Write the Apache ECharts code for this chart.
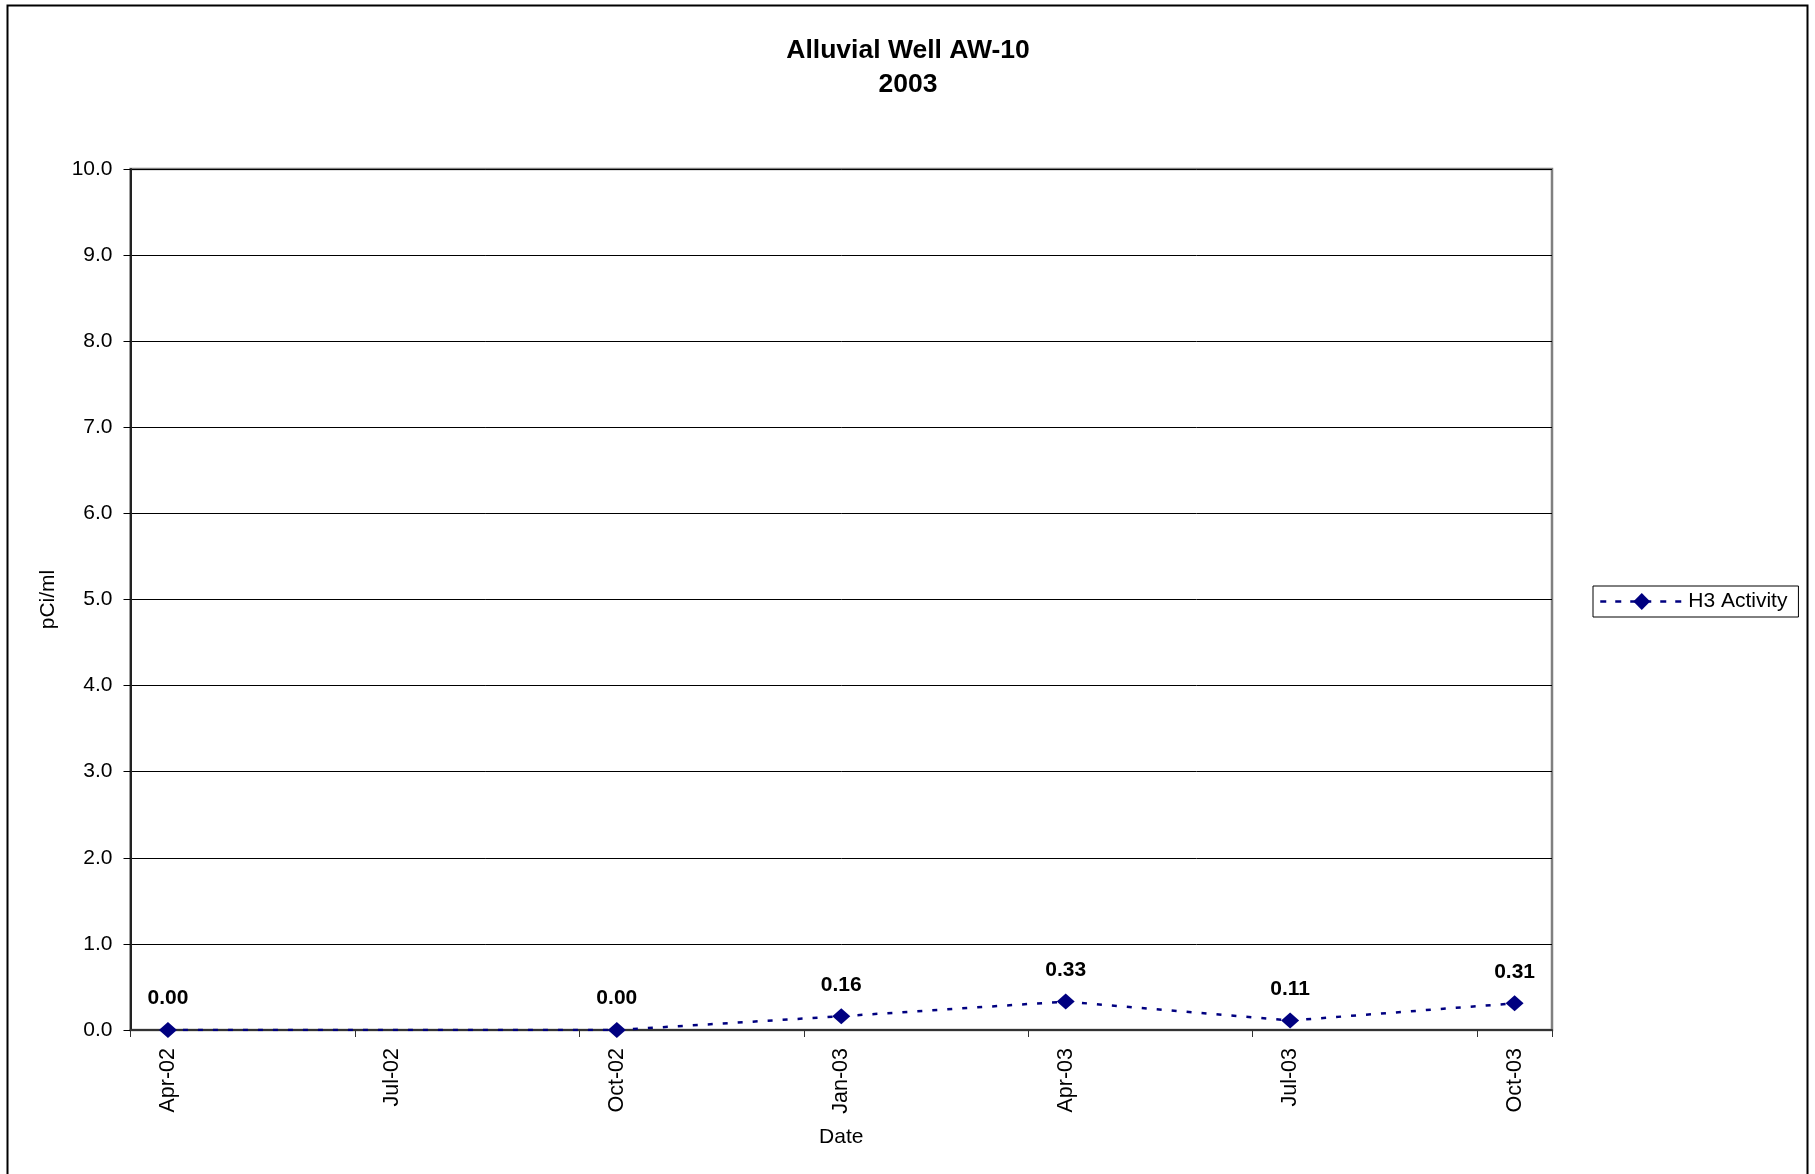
<!DOCTYPE html>
<html>
<head>
<meta charset="utf-8">
<title>Alluvial Well AW-10 2003</title>
<script src="https://cdn.jsdelivr.net/npm/echarts@6/dist/echarts.min.js"></script>
<style>
  html, body { margin: 0; padding: 0; background: #ffffff; }
  #chart { width: 1815px; height: 1174px; }
</style>
</head>
<body>
<div id="chart"></div>
<script>
// Monthly slots of the date axis (Apr 2002 – Oct 2003)
const months = ['Apr-02', 'May-02', 'Jun-02', 'Jul-02', 'Aug-02', 'Sep-02', 'Oct-02',
  'Nov-02', 'Dec-02', 'Jan-03', 'Feb-03', 'Mar-03', 'Apr-03', 'May-03', 'Jun-03',
  'Jul-03', 'Aug-03', 'Sep-03', 'Oct-03'];

// Sampling dates and tritium activity (pCi/ml)
const sampleDates = ['Apr-02', 'Oct-02', 'Jan-03', 'Apr-03', 'Jul-03', 'Oct-03'];
const h3Activity = [0.00, 0.00, 0.16, 0.33, 0.11, 0.31];

// Y axis range
const yMin = 0;
const yMax = 10;
const yStep = 1;

const seriesData = sampleDates.map((d, i) => [d, h3Activity[i]]);

const FONT = '"Liberation Sans", Arial, sans-serif';
const NAVY = '#000080';

const chart = echarts.init(document.getElementById('chart'), null, { renderer: 'canvas' });

chart.setOption({
  backgroundColor: '#ffffff',
  animation: false,
  graphic: [{
    type: 'rect',
    silent: true,
    shape: { x: 7.5, y: 5.5, width: 1800, height: 1200 },
    style: { fill: 'none', stroke: '#000000', lineWidth: 2 }
  }],
  title: {
    text: 'Alluvial Well AW-10\n2003',
    left: 903,
    textAlign: 'center',
    top: 29,
    textStyle: {
      fontFamily: FONT,
      fontSize: 26.5,
      fontWeight: 'bold',
      color: '#000000',
      lineHeight: 34
    }
  },
  legend: {
    show: true,
    left: 1593,
    top: 586,
    orient: 'vertical',
    padding: [5, 11, 5, 6],
    borderColor: '#000000',
    borderWidth: 1,
    itemWidth: 83,
    itemHeight: 21,
    textStyle: { fontFamily: FONT, fontSize: 21, color: '#000000' },
    lineStyle: { type: [6, 9], width: 2.5 },
    data: ['H3 Activity']
  },
  grid: {
    left: 130.5,
    right: 263,
    top: 169,
    bottom: 144,
    show: true,
    borderColor: '#808080',
    borderWidth: 2.5,
    backgroundColor: 'transparent'
  },
  xAxis: {
    type: 'category',
    data: months,
    boundaryGap: true,
    name: 'Date',
    nameLocation: 'middle',
    nameGap: 97,
    nameTextStyle: { fontFamily: FONT, fontSize: 21, color: '#000000' },
    axisLine: { show: true, lineStyle: { color: '#333333', width: 2 } },
    axisTick: { show: true, interval: 2, length: 7, lineStyle: { color: '#333333', width: 1 } },
    axisLabel: {
      interval: 2,
      rotate: 90,
      margin: 18,
      fontFamily: FONT,
      fontSize: 21.5,
      color: '#000000'
    },
    splitLine: { show: false }
  },
  yAxis: {
    type: 'value',
    min: yMin,
    max: yMax,
    interval: yStep,
    name: 'pCi/ml',
    nameLocation: 'middle',
    nameGap: 72,
    nameRotate: 90,
    nameTextStyle: { fontFamily: FONT, fontSize: 21, color: '#000000' },
    axisLine: { show: true, lineStyle: { color: '#222222', width: 2 } },
    axisTick: { show: true, length: 7, lineStyle: { color: '#000000', width: 1 } },
    axisLabel: {
      margin: 18,
      fontFamily: FONT,
      fontSize: 21,
      color: '#000000',
      formatter: v => v.toFixed(1)
    },
    splitLine: { show: true, lineStyle: { color: '#000000', width: 1 } }
  },
  series: [{
    name: 'H3 Activity',
    type: 'line',
    data: seriesData,
    symbol: 'diamond',
    symbolSize: [18, 16],
    itemStyle: { color: NAVY },
    lineStyle: { color: NAVY, width: 2.5, type: [5, 10] },
    label: {
      show: true,
      position: 'top',
      distance: 13,
      fontFamily: FONT,
      fontSize: 21,
      fontWeight: 'bold',
      color: '#000000',
      formatter: p => p.value[1].toFixed(2)
    },
    z: 3
  }]
});
</script>
</body>
</html>
